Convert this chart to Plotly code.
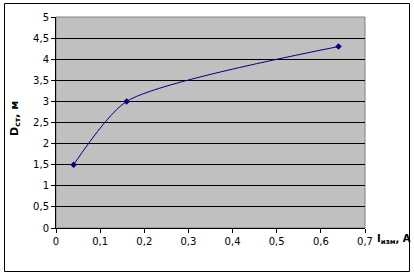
import plotly.graph_objects as go

current = [0.04, 0.16, 0.64]
diameter = [1.5, 3.0, 4.3]

W, H = 414, 275
L, R, T, B = 56, 49, 17, 47
pw, ph = W - L - R, H - T - B

def px(x):
    return (x - L) / pw

def py(y):
    return (H - B - y) / ph

fig = go.Figure()
fig.add_trace(go.Scatter(
    x=current, y=diameter, mode="lines+markers",
    line=dict(color="#000080", width=1, shape="spline", smoothing=0.65),
    marker=dict(symbol="diamond", size=5, color="#000080"),
    showlegend=False, cliponaxis=False,
))

font = dict(family="DejaVu Sans", size=10, color="black")
fig.update_layout(
    width=W, height=H,
    margin=dict(l=L, r=R, t=T, b=B),
    paper_bgcolor="white",
    plot_bgcolor="#C0C0C0",
    separators=", ",
    font=font,
    xaxis=dict(range=[0, 0.7], dtick=0.1, tick0=0, showgrid=False, zeroline=False,
               showline=True, linecolor="black", linewidth=1,
               ticks="outside", ticklen=4, tickcolor="black", tickfont=font,
               mirror=False),
    yaxis=dict(range=[0, 5], dtick=0.5, tick0=0, showgrid=True, gridcolor="black",
               gridwidth=1, zeroline=False, showline=True, linecolor="black",
               linewidth=1, ticks="outside", ticklen=4, tickcolor="black",
               tickfont=font),
    shapes=[
        dict(type="rect", xref="paper", yref="paper", x0=0, x1=1, y0=0, y1=1,
             line=dict(color="#808080", width=1), layer="below"),
        dict(type="rect", xref="paper", yref="paper",
             x0=px(4.5), x1=px(409.5), y0=py(271.5), y1=py(3.5),
             line=dict(color="black", width=1)),
    ],
    annotations=[
        dict(text="<b>D<sub>ст</sub>, м</b>", xref="paper", yref="paper",
             x=px(15), y=py(119), textangle=-90, showarrow=False,
             xanchor="center", yanchor="middle",
             font=dict(family="DejaVu Sans", size=11, color="black")),
        dict(text="<b>I<sub>изм</sub>, А</b>", xref="paper", yref="paper",
             x=px(375), y=py(239), showarrow=False,
             xanchor="left", yanchor="middle",
             font=dict(family="DejaVu Sans", size=10, color="black")),
    ],
)

fig.write_html("out.html")
